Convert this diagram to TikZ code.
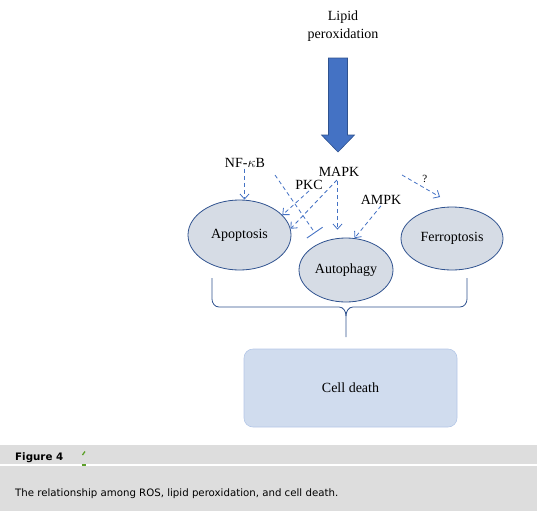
\documentclass[tikz,border=0pt]{standalone}
\usepackage{fontspec}
\setmainfont{Liberation Serif}
\newfontfamily\captionfont{DejaVu Sans}
\usetikzlibrary{arrows.meta,positioning,calc,shapes.geometric}
\definecolor{signalblue}{RGB}{68,114,196}
\definecolor{edgeblue}{RGB}{47,82,143}
\definecolor{ovalgray}{RGB}{214,220,229}
\definecolor{deathblue}{RGB}{208,220,238}
\definecolor{deathedge}{RGB}{180,199,231}
\definecolor{captiongray}{RGB}{221,221,221}
\definecolor{icongreen}{RGB}{92,160,40}

\begin{document}
\begin{tikzpicture}[x=1pt,y=-1pt,
    font=\fontsize{14}{16}\selectfont,
    oval/.style={ellipse, draw=edgeblue, fill=ovalgray, line width=0.8pt, inner sep=0pt},
    signal/.style={draw=signalblue, dash pattern=on 4pt off 3pt, line width=0.8pt,
        -{Straight Barb[length=5pt,width=9pt]}},
    blocker/.style={draw=signalblue, dash pattern=on 4pt off 3pt, line width=0.8pt,
        -{Bar[width=19pt,line width=0.9pt]}},
    brace/.style={draw=edgeblue, line width=0.8pt},
    tag/.style={inner sep=1pt}]
\useasboundingbox (0,0) rectangle (537,511);

% lipid peroxidation and the big arrow
\node[align=center, font=\fontsize{14}{18}\selectfont] (lipid) at (343,26) {Lipid\\peroxidation};
\draw[edgeblue, fill=signalblue, line width=0.6pt]
    (328.5,58) -- (347.5,58) -- (347.5,135) -- (354.5,135) -- (338,152)
    -- (321.5,135) -- (328.5,135) -- cycle;

% cell fates
\node[oval, minimum width=103pt, minimum height=70pt, label=center:Apoptosis] (apop) at (239.5,235) {};
\node[oval, minimum width=94pt, minimum height=64pt, label=center:Autophagy] (autoph) at (346,270) {};
\node[oval, minimum width=102pt, minimum height=63pt, label=center:Ferroptosis] (ferro) at (452,238.5) {};

% regulators
\node[tag] (nfkb) at (245,163) {NF-$\kappa$B};
\node[tag] (mapk) at (339,172) {MAPK};
\node[tag] (pkc) at (309,185) {PKC};
\node[tag] (ampk) at (381,200) {AMPK};

\coordinate (inhstart) at (275,175);
\coordinate (inhend) at (315,233);
\coordinate (qstart) at (402,175);
\coordinate (qend) at (440,197);

\draw[signal] ([xshift=-0.5pt]nfkb.south) -- ([xshift=-0.5pt]nfkb.south |- apop.north);
\draw[signal] (pkc.south) -- (apop.25);
\draw[signal, shorten <=3pt] (mapk.south) -- (apop.7);
\draw[signal, shorten <=3pt, shorten >=8pt] ([xshift=-1.5pt]mapk.south) -- ([xshift=-1.5pt]mapk.south |- autoph.north);
\draw[signal] (ampk.south) -- (autoph.75);
\draw[blocker] (inhstart) -- (inhend);
\draw[signal] (qstart) -- node[tag, above right=2pt and 0pt, font=\fontsize{11}{13}\selectfont] (qmark) {?} (qend);

% brace to cell death
\draw[brace] (212,278) -- (212,299) to[out=-90,in=180] (219,307) -- (339,307)
    to[out=0,in=90] (346,316) -- (346,337);
\draw[brace] (346,316) to[out=90,in=180] (353,307) -- (460,307)
    to[out=0,in=-90] (467,299) -- (467,278);

\node[draw=deathedge, fill=deathblue, rounded corners=9pt, minimum width=213pt,
    minimum height=78pt, line width=0.6pt] (death) at (350.5,388) {Cell death};

% caption band
\fill[captiongray] (0,445) rectangle (537,511);
\draw[white, line width=1.2pt] (0,465) -- (537,465);
\node[anchor=base west, inner sep=0pt, font=\captionfont\bfseries\fontsize{10.3}{12}\selectfont]
    (figlabel) at (15,460) {Figure 4};
\draw[icongreen, line width=1.3pt] (82.5,455) -- (85,451.5);
\draw[icongreen, line width=1.3pt] (81.5,465) -- (86,465);
\node[anchor=base west, inner sep=0pt, font=\captionfont\fontsize{10.2}{12}\selectfont]
    (captext) at (15,496) {The relationship among ROS, lipid peroxidation, and cell death.};
\end{tikzpicture}
\end{document}
